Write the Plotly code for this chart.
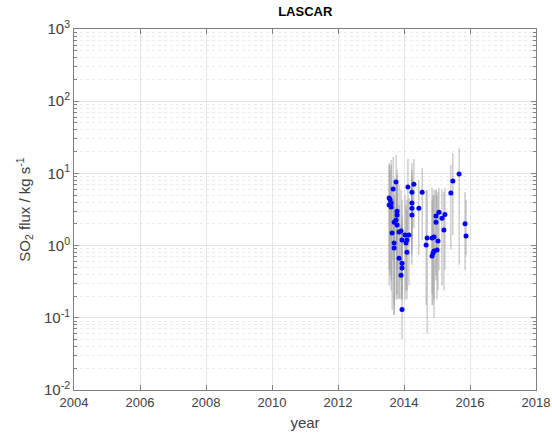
import plotly.graph_objects as go

title = "LASCAR"
x_ticks = [2004, 2006, 2008, 2010, 2012, 2014, 2016, 2018]
y_ticks = [0.01, 0.1, 1, 10, 100, 1000]
y_ticklabels = ["10<sup>-2</sup>", "10<sup>-1</sup>", "10<sup>0</sup>", "10<sup>1</sup>", "10<sup>2</sup>", "10<sup>3</sup>"]

year = [2013.55, 2013.61, 2013.55, 2013.61, 2013.58, 2013.76, 2013.67, 2013.79, 2013.76, 2013.70,
        2013.79, 2013.64, 2013.70, 2013.70, 2013.85, 2013.85, 2013.94, 2013.94, 2013.94, 2013.91,
        2013.94, 2014.03, 2014.09, 2014.06, 2014.09, 2014.15, 2014.12, 2014.30, 2014.24, 2014.24,
        2014.24, 2014.45, 2014.24, 2014.55, 2013.79, 2013.91, 2014.67, 2014.70, 2014.85, 2014.91,
        2015.03, 2014.91, 2015.00, 2014.85, 2015.06, 2014.97, 2014.97, 2015.24, 2015.15, 2015.21,
        2014.88, 2015.42, 2015.48, 2015.67, 2015.85, 2015.88]
flux = [4.56, 3.89, 3.65, 3.43, 4.3, 7.6, 6.1, 2.65, 2.26, 2.1,
        1.93, 1.5, 1.09, 0.93, 1.54, 0.67, 1.20, 0.57, 0.49, 0.39,
        0.13, 1.40, 1.20, 1.09, 0.81, 1.40, 6.5, 7.1, 5.5, 3.9,
        3.3, 3.3, 2.65, 5.5, 3.0, 1.59, 1.02, 1.27, 1.27, 1.32,
        1.16, 0.84, 0.87, 0.72, 2.9, 2.57, 2.1, 2.7, 2.4, 1.64,
        0.79, 5.35, 7.85, 9.8, 2.0, 1.36]
flux_hi = [13.9, 15.3, 13.1, 13.1, 11.1, 18.0, 16.9, 9.5, 8.1, 8.6,
           7.6, 5.9, 5.0, 4.3, 6.9, 3.65, 4.3, 2.65, 2.26, 1.93,
           0.28, 5.0, 4.3, 3.65, 3.1, 4.56, 15.8, 15.8, 13.9, 11.1,
           9.5, 8.1, 8.1, 11.9, 11.1, 5.9, 5.9, 5.9, 6.3, 5.9,
           5.5, 5.0, 5.0, 4.3, 6.3, 5.9, 5.9, 6.3, 5.9, 5.5,
           5.0, 13.1, 19.2, 22.5, 5.5, 4.3]
flux_lo = [0.46, 0.33, 0.28, 0.24, 0.39, 1.20, 0.63, 0.21, 0.18, 0.11,
           0.18, 0.13, 0.15, 0.11, 0.19, 0.18, 0.24, 0.18, 0.18, 0.18,
           0.05, 0.18, 0.18, 0.24, 0.24, 0.28, 1.64, 1.75, 1.20, 0.87,
           0.74, 0.74, 0.54, 1.20, 0.46, 0.33, 0.15, 0.06, 0.21, 0.18,
           0.24, 0.10, 0.18, 0.15, 0.46, 0.39, 0.33, 0.46, 0.28, 0.24,
           0.15, 0.87, 1.40, 0.54, 0.46, 0.74]

err_plus = [h - v for h, v in zip(flux_hi, flux)]
err_minus = [v - l for v, l in zip(flux, flux_lo)]

minor_vals = [m * 10 ** e for e in range(-2, 3) for m in range(2, 10)]

FONT = "Liberation Sans, Arial, sans-serif"

fig = go.Figure()
fig.add_trace(go.Scatter(
    x=year, y=flux, mode="markers",
    marker=dict(color="#0000FF", size=5, line=dict(width=0)),
    error_y=dict(type="data", symmetric=False, array=err_plus, arrayminus=err_minus,
                 color="rgba(150,150,150,0.7)", thickness=1, width=0),
    showlegend=False,
))

fig.update_layout(
    width=552, height=439,
    margin=dict(l=74, r=16, t=29, b=49, autoexpand=False),
    paper_bgcolor="white", plot_bgcolor="white",
    title=dict(text="<b>" + title + "</b>", x=0.553, xanchor="center", y=0.973, yanchor="middle",
               font=dict(family=FONT, size=13, color="#000000")),
    xaxis=dict(range=[2004, 2018], tickvals=x_ticks, ticktext=[str(t) for t in x_ticks],
               ticks="inside", ticklen=5, tickcolor="#808080", automargin=False,
               showline=True, linecolor="#808080", linewidth=1, mirror="ticks",
               showgrid=True, gridcolor="#E6E6E6", gridwidth=1, zeroline=False,
               tickfont=dict(family=FONT, size=13, color="#404040"),
               title=dict(text="year", font=dict(family=FONT, size=15, color="#404040"), standoff=8)),
    yaxis=dict(type="log", range=[-2, 3], tickvals=y_ticks, ticktext=y_ticklabels,
               ticks="inside", ticklen=5, tickcolor="#808080", automargin=False,
               showline=True, linecolor="#808080", linewidth=1, mirror="ticks",
               showgrid=True, gridcolor="#E6E6E6", gridwidth=1, zeroline=False,
               tickfont=dict(family=FONT, size=15, color="#404040"),
               minor=dict(tickvals=minor_vals, showgrid=True, gridcolor="#EBEBEB", griddash="dot",
                          ticks="inside", ticklen=3, tickcolor="#808080"),
               title=dict(text="SO<sub>2</sub> flux / kg s<sup>-1</sup>",
                          font=dict(family=FONT, size=15, color="#404040"), standoff=9)),
)

fig.write_html("out.html", config={"displayModeBar": False},
               post_script="document.body.style.margin='0';document.body.style.overflow='hidden';")
